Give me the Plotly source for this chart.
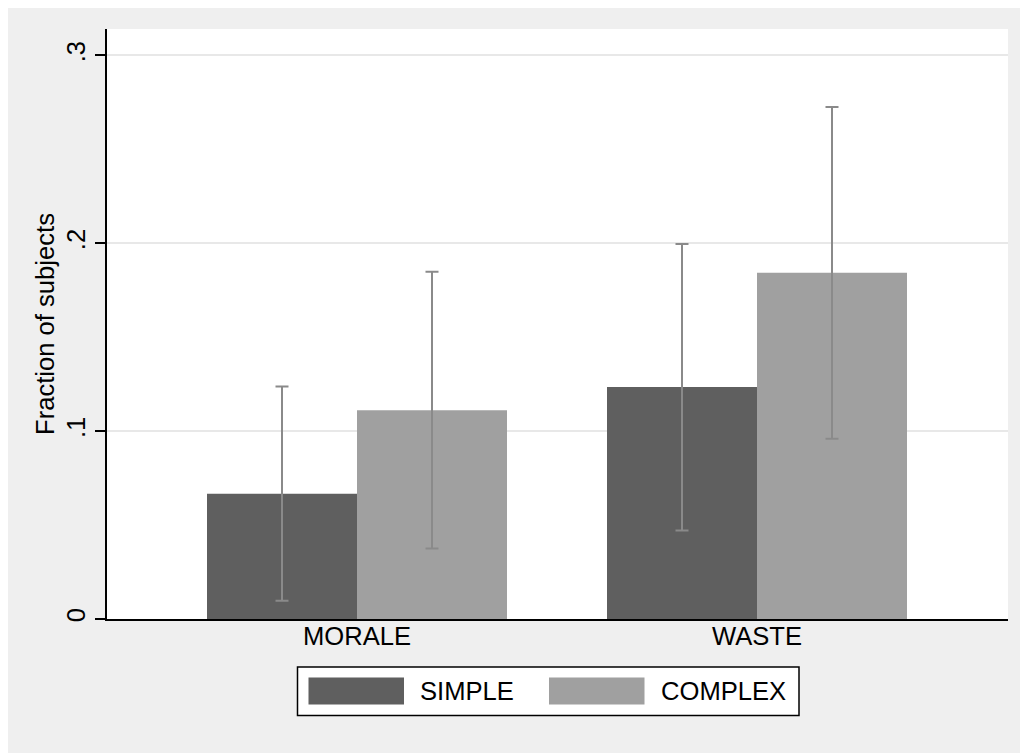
import plotly.graph_objects as go

# ---- data ----
categories = ["MORALE", "WASTE"]
series_names = ["SIMPLE", "COMPLEX"]
simple_vals = [0.0667, 0.1235]
simple_lo = [0.0097, 0.0471]
simple_hi = [0.1238, 0.1996]
complex_vals = [0.1111, 0.1843]
complex_lo = [0.0375, 0.0960]
complex_hi = [0.1848, 0.2726]
y_tickvals = [0, 0.1, 0.2, 0.3]
y_ticktext = ["0", ".1", ".2", ".3"]

colors = ["#5f5f5f", "#a0a0a0"]
err_color = "#8a8a8a"
FONT = "Liberation Sans, Arial, Helvetica, sans-serif"
FS = 25.6

OFF = 8  # page body margin
PW, PH = 1028, 753
W, H = PW - OFF, PH - OFF
L, R, T, B = 107, 1008, 29, 619.5  # plot area in page pixels

def px_x(p):
    return (p - L) / (R - L)

def px_y(p):
    return (B - p) / (B - T)

x_idx = list(range(len(categories)))

fig = go.Figure()
series = [
    (simple_vals, simple_lo, simple_hi),
    (complex_vals, complex_lo, complex_hi),
]
for name, (vals, lo, hi), col in zip(series_names, series, colors):
    fig.add_trace(go.Bar(
        x=x_idx, y=vals, name=name,
        marker=dict(color=col, line=dict(width=0)),
        error_y=dict(
            type="data",
            array=[h - v for h, v in zip(hi, vals)],
            arrayminus=[v - l for v, l in zip(vals, lo)],
            color=err_color, thickness=2, width=6.5,
        ),
        showlegend=False,
    ))

shapes = []
annotations = []

# manual legend
shapes.append(dict(type="rect", xref="paper", yref="paper",
                   x0=px_x(297.5), x1=px_x(799), y0=px_y(716), y1=px_y(667.5),
                   fillcolor="white", line=dict(color="black", width=1.5)))
sw_x = [308.5, 549]
tx_x = [418, 659]
for name, col, sx, tx in zip(series_names, colors, sw_x, tx_x):
    shapes.append(dict(type="rect", xref="paper", yref="paper",
                       x0=px_x(sx), x1=px_x(sx + 95.5), y0=px_y(705), y1=px_y(678),
                       fillcolor=col, line=dict(width=0)))
    annotations.append(dict(text=name, xref="paper", yref="paper",
                            x=px_x(tx), y=px_y(691.5), xanchor="left", yanchor="middle",
                            showarrow=False, font=dict(family=FONT, size=FS, color="black")))

fig.update_layout(
    width=W, height=H,
    margin=dict(l=L - OFF, r=PW - R, t=T - OFF, b=PH - B, pad=0),
    paper_bgcolor="#efefef",
    plot_bgcolor="white",
    barmode="group", bargap=0.25, bargroupgap=0,
    font=dict(family=FONT, size=FS, color="black"),
    shapes=shapes, annotations=annotations,
    xaxis=dict(
        range=[-0.625, 1.6275],
        tickvals=x_idx, ticktext=categories,
        showline=True, linecolor="black", linewidth=1.5,
        ticks="", showgrid=False, zeroline=False,
        ticklabelstandoff=-6,
        tickfont=dict(family=FONT, size=FS, color="black"),
    ),
    yaxis=dict(
        range=[0, 0.3141],
        tickvals=y_tickvals, ticktext=y_ticktext,
        tickangle=-90,
        showline=True, linecolor="black", linewidth=1.5,
        ticks="outside", ticklen=10, tickwidth=1.5, tickcolor="black",
        showgrid=True, gridcolor="#e8e8e8", gridwidth=2,
        zeroline=False,
        tickfont=dict(family=FONT, size=FS, color="black"),
        title=dict(text="Fraction of subjects", font=dict(family=FONT, size=FS, color="black"), standoff=0),
    ),
)

fig.write_html("out.html")
